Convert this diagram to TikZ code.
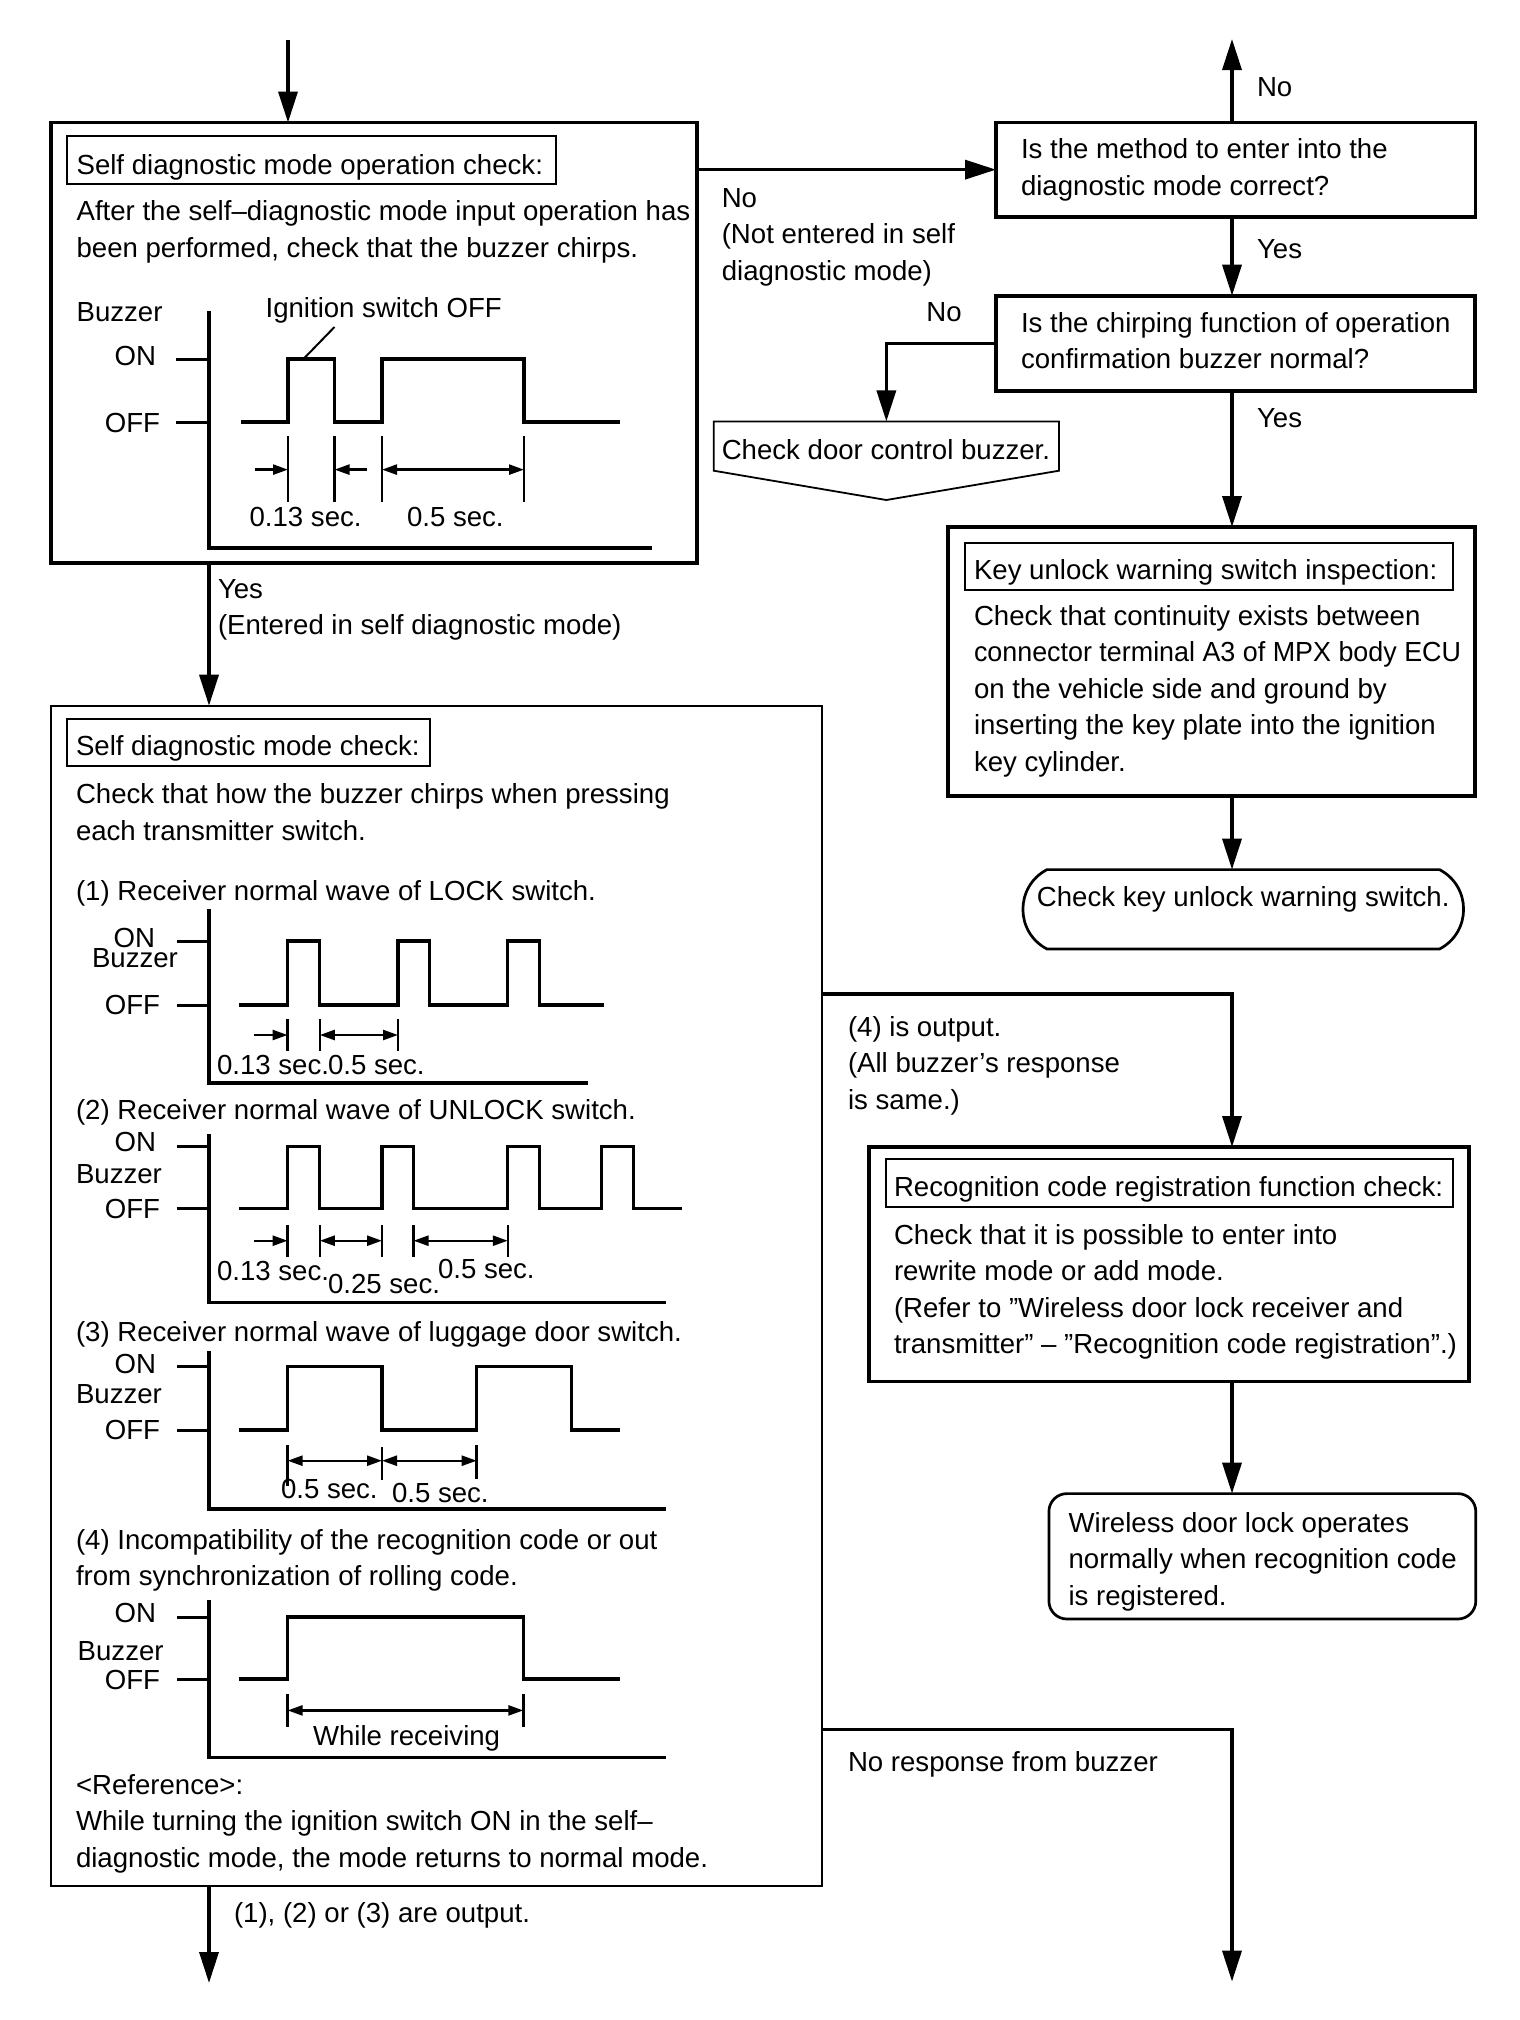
\documentclass[tikz,border=0pt]{standalone}
\usepackage{fontspec}
\setmainfont{Liberation Sans}
\usetikzlibrary{arrows.meta,calc,fit}
\newcommand\myfs{\fontsize{27.6bp}{36.5bp}\selectfont}
\begin{document}
\begin{tikzpicture}[x=1bp,y=-1bp,
  every node/.style={inner sep=0pt, outer sep=0pt, font=\myfs},
  bigbox/.style={draw, line width=3.7bp},
  midbox/.style={draw, line width=3.4bp},
  thinbox/.style={draw, line width=2bp},
  ttl/.style={draw, line width=2bp},
  arr/.style={line width=3.5bp, -{Triangle[length=31bp,width=19bp]}},
  txt/.style={anchor=base west},
  mtxt/.style={anchor=north west, align=left},
  lbl/.style={anchor=base east},
  axisl/.style={line width=3.3bp},
  tickl/.style={line width=3bp},
  wave/.style={line width=3.2bp, line join=miter},
  dimv/.style={line width=2.6bp},
  dimr/.style={line width=2.4bp, -{Triangle[length=15bp,width=10bp]}},
  dimb/.style={line width=2.4bp, {Triangle[length=15bp,width=10bp]}-{Triangle[length=15bp,width=10bp]}},
  lead/.style={line width=2bp}]
\fill[white] (0,0) rectangle (1520,2020);
\useasboundingbox (0,0) rectangle (1520,2020);

% ---------- flow boxes ----------
\node[fit={(51,122.5) (697,563)}, bigbox] (box1) {};
\node[fit={(996,122.5) (1475.4,216.8)}, bigbox] (q1) {};
\node[fit={(996,295.7) (1475,391)}, bigbox] (q2) {};
\node[fit={(713.7,421.4) (1059,470.7)}] (cdb) {};
\draw[line width=1.8bp] (cdb.north west) -- (cdb.north east) -- (cdb.south east)
  -- ($(cdb.south)+(0,29.3)$) -- (cdb.south west) -- cycle;
\node[fit={(948,527) (1475,796)}, midbox] (key) {};
\node[fit={(1023,869.6) (1463.5,949)}] (term) {Check key unlock warning switch.};
\draw[line width=2.7bp] ($(term.north west)+(24,0)$) -- ($(term.north east)+(-24,0)$)
  .. controls ($(term.north east)+(8.1,16.8)$) and ($(term.south east)+(8.1,-16.8)$) .. ($(term.south east)+(-24,0)$)
  -- ($(term.south west)+(24,0)$)
  .. controls ($(term.south west)+(-8.1,-16.8)$) and ($(term.north west)+(-8.1,16.8)$) .. cycle;
\node[fit={(51,705.7) (822,1886.4)}, thinbox] (box2) {};
\node[fit={(868.9,1147) (1469,1381.5)}, midbox] (recog) {};
\node[fit={(1048.9,1493.6) (1475.8,1619)}, draw, line width=2.7bp, rounded corners=18bp] (wl) {};

% ---------- connectors ----------
\coordinate (in1) at (288,40);
\coordinate (rs) at (1232,0);
\coordinate (ax) at (209,0);
\coordinate (outNo) at (1232,39);
\coordinate (b4y) at (0,994);
\coordinate (nry) at (0,1729.3);
\coordinate (out2) at (209,1983);
\coordinate (out3) at (1232,1981.6);
\draw[arr] (in1) -- (in1 |- box1.north);
\draw[arr] (box1.east |- q1.west) -- (q1.west);
\draw[arr] (rs |- q1.north) -- (outNo);
\draw[arr] (rs |- q1.south) -- (rs |- q2.north);
\draw[arr] (q2.west) -| (cdb.north);
\draw[arr] (rs |- q2.south) -- (rs |- key.north);
\draw[arr] (rs |- key.south) -- (rs |- term.north);
\draw[arr] (ax |- box1.south) -- (ax |- box2.north);
\draw[arr] (box2.east |- b4y) -| (rs |- recog.north);
\draw[arr] (rs |- recog.south) -- (rs |- wl.north);
\draw[arr] (ax |- box2.south) -- (out2);
\draw[arr] (box2.east |- nry) -| (out3);

% ---------- connector labels ----------
\node[txt] (lno0) at (1257,96.4) {No};
\node[txt] (lyes1) at (1257,258) {Yes};
\node[txt] (lno2) at (926.4,321.4) {No};
\node[txt] (lyes2) at (1257,427) {Yes};
\node[mtxt] (lno1) at (721.8,185) {\rule{0pt}{22bp}No\\(Not entered in self\\diagnostic mode)};
\node[mtxt] (lyes0) at (218,576) {\rule{0pt}{22bp}Yes\\(Entered in self diagnostic mode)};
\node[mtxt] (lo4) at (848,1014) {\rule{0pt}{22bp}(4) is output.\\(All buzzer’s response\\is same.)};
\node[txt] (lnr) at (848,1771) {No response from buzzer};
\node[txt] (lo123) at (234,1922) {(1), (2) or (3) are output.};

% ---------- right texts ----------
\node[mtxt] (q1t) at (1021,136.5) {\rule{0pt}{22bp}Is the method to enter into the\\diagnostic mode correct?};
\node[mtxt] (q2t) at (1021,310) {\rule{0pt}{22bp}Is the chirping function of operation\\confirmation buzzer normal?};
\node[txt] (cdbt) at (721.8,459) {Check door control buzzer.};
\node[fit={(964.5,543) (1452.8,590)}, ttl] (keyttl) {};
\node[txt] (keyt) at (974,579) {Key unlock warning switch inspection:};
\node[mtxt] (keyb) at (974,603) {\rule{0pt}{22bp}Check that continuity exists between\\\scalebox{0.974}[1]{connector terminal A3 of MPX body ECU}\\on the vehicle side and ground by\\inserting the key plate into the ignition\\key cylinder.};
\node[fit={(885.9,1159) (1453,1207)}, ttl] (recttl) {};
\node[txt] (rect) at (894,1196) {Recognition code registration function check:};
\node[mtxt] (recb) at (894,1222) {\rule{0pt}{22bp}Check that it is possible to enter into\\rewrite mode or add mode.\\(Refer to ”Wireless door lock receiver and\\transmitter” – ”Recognition code registration”.)};
\node[mtxt] (wlt) at (1068.6,1510) {\rule{0pt}{22bp}Wireless door lock operates\\normally when recognition code\\is registered.};

% ---------- box 1 ----------
\node[fit={(67,136) (555.5,184)}, ttl] (b1ttl) {};
\node[txt] (b1t) at (76.6,174) {Self diagnostic mode operation check:};
\node[mtxt] (b1b) at (76.6,198.8) {\rule{0pt}{22bp}After the self–diagnostic mode input operation has\\been performed, check that the buzzer chirps.};
\node[txt] (bz0) at (76.6,321.5) {Buzzer};
\node[lbl] (on0) at (156,365) {ON};
\node[lbl] (off0) at (160,432) {OFF};
\node[txt] (ign) at (265.6,317) {Ignition switch OFF};
\draw[axisl] (209,311) -- (209,548) -- (652,548);
\draw[tickl] (176,359) -- (209,359);
\draw[tickl] (176,422) -- (209,422);
\draw[wave] (241,422) -- (288,422) -- (288,359) -- (334.5,359) -- (334.5,422) -- (382,422)
  -- (382,359) -- (524,359) -- (524,422) -- (619.5,422);
\draw[lead] (304.4,358) -- (334.5,327);
\foreach \xx in {288,334.5,382,524} \draw[dimv] (\xx,436) -- (\xx,502);
\draw[dimr] (254.5,469.6) -- (288,469.6);
\draw[dimr] (367,469.6) -- (334.5,469.6);
\draw[dimb] (382,469.6) -- (524,469.6);
\node[txt] (d0a) at (249.6,526) {0.13 sec.};
\node[txt] (d0b) at (407,526) {0.5 sec.};

% ---------- box 2 ----------
\node[fit={(67,718.8) (429.6,766)}, ttl] (b2ttl) {};
\node[txt] (b2t) at (76,755) {Self diagnostic mode check:};
\node[mtxt] (b2b) at (76,781.6) {\rule{0pt}{22bp}Check that how the buzzer chirps when pressing\\each transmitter switch.};
\node[txt] (c1) at (76,900) {(1) Receiver normal wave of LOCK switch.};
\node[txt] (c2) at (76,1119.5) {(2) Receiver normal wave of UNLOCK switch.};
\node[txt] (c3) at (76,1341) {(3) Receiver normal wave of luggage door switch.};
\node[mtxt] (c4) at (76,1527) {\rule{0pt}{22bp}(4) Incompatibility of the recognition code or out\\from synchronization of rolling code.};
\node[mtxt] (refn) at (76,1772) {\rule{0pt}{22bp}<Reference>:\\While turning the ignition switch ON in the self–\\diagnostic mode, the mode returns to normal mode.};

% chart 1
\draw[axisl] (209,909) -- (209,1083) -- (588,1083);
\draw[tickl] (176.8,941) -- (209,941);
\draw[tickl] (176.8,1005) -- (209,1005);
\draw[wave] (239.4,1005) -- (287.6,1005) -- (287.6,941) -- (319.8,941) -- (319.8,1005) -- (398,1005)
  -- (398,941) -- (429.6,941) -- (429.6,1005) -- (507.8,1005) -- (507.8,941) -- (539.4,941)
  -- (539.4,1005) -- (604.2,1005);
\foreach \xx in {287.6,319.8,398} \draw[dimv] (\xx,1019) -- (\xx,1051);
\draw[dimr] (254,1035) -- (287.6,1035);
\draw[dimb] (319.8,1035) -- (398,1035);
\node[lbl] (on1) at (155,947) {ON};
\node[txt] (bz1) at (92,967) {Buzzer};
\node[lbl] (off1) at (160,1014) {OFF};
\node[txt] (d1a) at (217,1074) {0.13 sec.};
\node[txt] (d1b) at (328,1074) {0.5 sec.};

% chart 2
\draw[axisl] (209,1134) -- (209,1302.6) -- (665.8,1302.6);
\draw[tickl] (176.8,1146.6) -- (209,1146.6);
\draw[tickl] (176.8,1208.7) -- (209,1208.7);
\draw[wave] (239.4,1208.7) -- (287.6,1208.7) -- (287.6,1146.6) -- (319.8,1146.6) -- (319.8,1208.7)
  -- (382,1208.7) -- (382,1146.6) -- (413.5,1146.6) -- (413.5,1208.7) -- (507.8,1208.7)
  -- (507.8,1146.6) -- (539.4,1146.6) -- (539.4,1208.7) -- (601.5,1208.7) -- (601.5,1146.6)
  -- (633.6,1146.6) -- (633.6,1208.7) -- (681.8,1208.7);
\foreach \xx in {287.6,319.8,382,413.5,507.8} \draw[dimv] (\xx,1225) -- (\xx,1257);
\draw[dimr] (254,1240.7) -- (287.6,1240.7);
\draw[dimb] (319.8,1240.7) -- (382,1240.7);
\draw[dimb] (413.5,1240.7) -- (507.8,1240.7);
\node[lbl] (on2) at (156,1151) {ON};
\node[txt] (bz2) at (76,1183) {Buzzer};
\node[lbl] (off2) at (160,1218.5) {OFF};
\node[txt] (d2a) at (217,1280) {0.13 sec.};
\node[txt] (d2b) at (328,1293) {0.25 sec.};
\node[txt] (d2c) at (438,1278) {0.5 sec.};

% chart 3
\draw[axisl] (209,1350.8) -- (209,1509) -- (665.8,1509);
\draw[tickl] (176.8,1366.4) -- (209,1366.4);
\draw[tickl] (176.8,1430) -- (209,1430);
\draw[wave] (239.4,1430) -- (287.6,1430) -- (287.6,1366.4) -- (382,1366.4) -- (382,1430)
  -- (476.7,1430) -- (476.7,1366.4) -- (571.5,1366.4) -- (571.5,1430) -- (619.7,1430);
\draw[dimv] (287.6,1445) -- (287.6,1486);
\draw[dimv] (382,1447) -- (382,1480);
\draw[dimv] (476.7,1445) -- (476.7,1479);
\draw[dimb] (287.6,1460.7) -- (382,1460.7);
\draw[dimb] (382,1460.7) -- (476.7,1460.7);
\node[lbl] (on3) at (156,1373.4) {ON};
\node[txt] (bz3) at (76,1403.6) {Buzzer};
\node[lbl] (off3) at (160,1439.5) {OFF};
\node[txt] (d3a) at (281,1498) {0.5 sec.};
\node[txt] (d3b) at (392,1502.7) {0.5 sec.};

% chart 4
\draw[axisl] (209,1600) -- (209,1757.6) -- (665.8,1757.6);
\draw[tickl] (176.8,1617) -- (209,1617);
\draw[tickl] (176.8,1679) -- (209,1679);
\draw[wave] (239.4,1679) -- (287.6,1679) -- (287.6,1617) -- (523.3,1617) -- (523.3,1679) -- (619.7,1679);
\draw[dimv] (287.6,1694) -- (287.6,1727.4);
\draw[dimv] (523.3,1694) -- (523.3,1727.4);
\draw[dimb] (287.6,1710.4) -- (523.3,1710.4);
\node[lbl] (on4) at (156,1622) {ON};
\node[txt] (bz4) at (77.7,1660) {Buzzer};
\node[lbl] (off4) at (160,1689) {OFF};
\node[txt] (wr) at (313,1745) {While receiving};
\end{tikzpicture}
\end{document}
